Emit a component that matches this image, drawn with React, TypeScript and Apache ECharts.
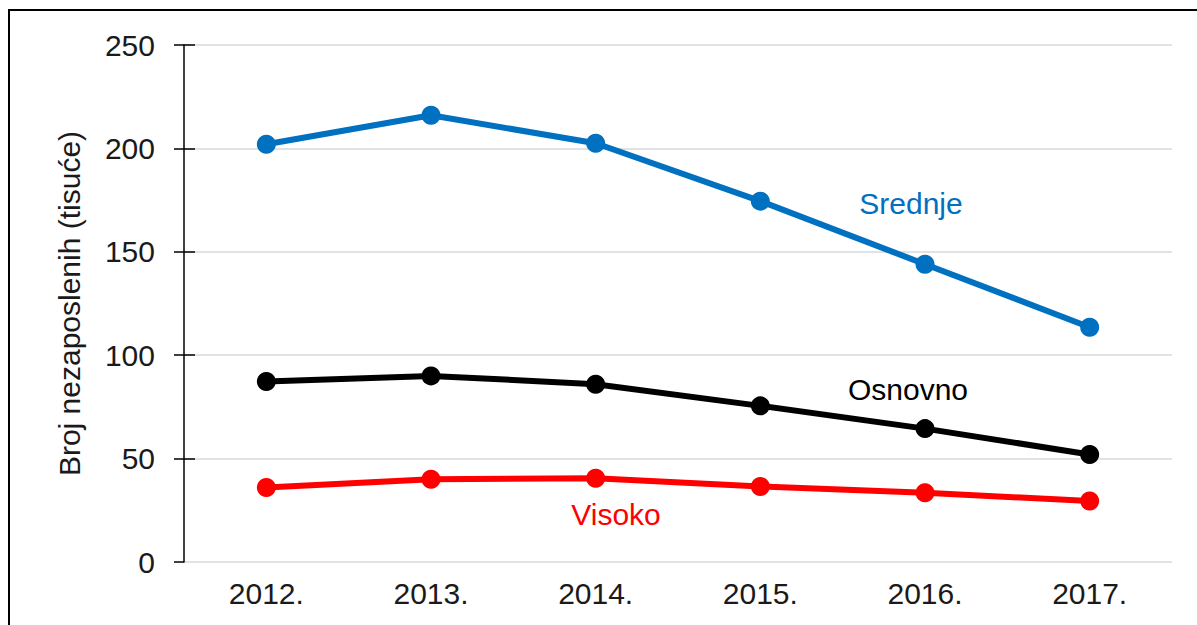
import React, { useEffect, useRef } from "react";
import * as echarts from "echarts";

const years = ["2012.", "2013.", "2014.", "2015.", "2016.", "2017."];
const srednje = [202, 216, 202.5, 174.5, 144, 113.5];
const osnovno = [87.3, 90, 86, 75.5, 64.5, 52];
const visoko = [36, 40, 40.5, 36.5, 33.5, 29.5];
const yTicks = [0, 50, 100, 150, 200, 250];

const FONT = "'Liberation Sans', Arial, sans-serif";
const BLUE = "#0070C0";
const RED = "#FF0000";
const BLACK = "#000000";

export default function App() {
  const ref = useRef<HTMLDivElement>(null);
  useEffect(() => {
    if (!ref.current) return;
    const chart = echarts.init(ref.current, null, { renderer: "svg" });
    const mkLine = (name: string, data: number[], color: string) => ({
      name,
      type: "line",
      data,
      yAxisIndex: 0,
      symbol: "circle",
      symbolSize: 19,
      lineStyle: { color, width: 6 },
      itemStyle: { color },
      z: 5,
    });
    chart.setOption({
      animation: false,
      backgroundColor: "#ffffff",
      textStyle: { fontFamily: FONT },
      grid: { left: 184, right: 25, top: 45, bottom: 63, containLabel: false },
      xAxis: {
        type: "category",
        data: years,
        boundaryGap: true,
        axisLine: { show: false },
        axisTick: { show: false },
        axisLabel: { color: "#1a1a1a", fontSize: 30, fontFamily: FONT, margin: 16 },
        splitLine: { show: false },
      },
      yAxis: [
        {
          type: "value",
          min: yTicks[0],
          max: yTicks[yTicks.length - 1],
          interval: 50,
          name: "Broj nezaposlenih (tisuće)",
          nameLocation: "middle",
          nameGap: 100,
          nameTextStyle: { color: "#1a1a1a", fontSize: 30, fontFamily: FONT },
          axisLine: { show: true, lineStyle: { color: "#000", width: 1.5 } },
          axisTick: { show: true, inside: false, length: 10, lineStyle: { color: "#000", width: 1.5 } },
          axisLabel: { color: "#1a1a1a", fontSize: 30, fontFamily: FONT, margin: 29 },
          splitLine: { show: true, lineStyle: { color: "#d9d9d9", width: 1.5 } },
        },
        {
          type: "value",
          position: "left",
          min: yTicks[0],
          max: yTicks[yTicks.length - 1],
          interval: 50,
          axisLine: { show: false },
          axisTick: {
            show: true,
            inside: true,
            length: 11,
            customValues: yTicks.slice(1),
            lineStyle: { color: "#000", width: 1.5 },
          },
          axisLabel: { show: false },
          splitLine: { show: false },
        },
      ],
      series: [
        mkLine("Srednje", srednje, BLUE),
        mkLine("Osnovno", osnovno, BLACK),
        mkLine("Visoko", visoko, RED),
      ],
      graphic: [
        {
          type: "rect",
          shape: { x: 9, y: 10, width: 1400, height: 900 },
          style: { fill: "none", stroke: "#000", lineWidth: 2 },
          silent: true,
          z: 100,
        },
        {
          type: "text",
          x: 911,
          y: 203,
          style: { text: "Srednje", fill: BLUE, font: `30px ${FONT}`, textAlign: "center", textVerticalAlign: "middle" },
        },
        {
          type: "text",
          x: 908,
          y: 389,
          style: { text: "Osnovno", fill: BLACK, font: `30px ${FONT}`, textAlign: "center", textVerticalAlign: "middle" },
        },
        {
          type: "text",
          x: 616,
          y: 514,
          style: { text: "Visoko", fill: RED, font: `30px ${FONT}`, textAlign: "center", textVerticalAlign: "middle" },
        },
      ],
    });
    return () => chart.dispose();
  }, []);
  return (
    <div
      ref={ref}
      style={{ position: "fixed", left: 0, top: 0, width: 1197, height: 625 }}
    />
  );
}
